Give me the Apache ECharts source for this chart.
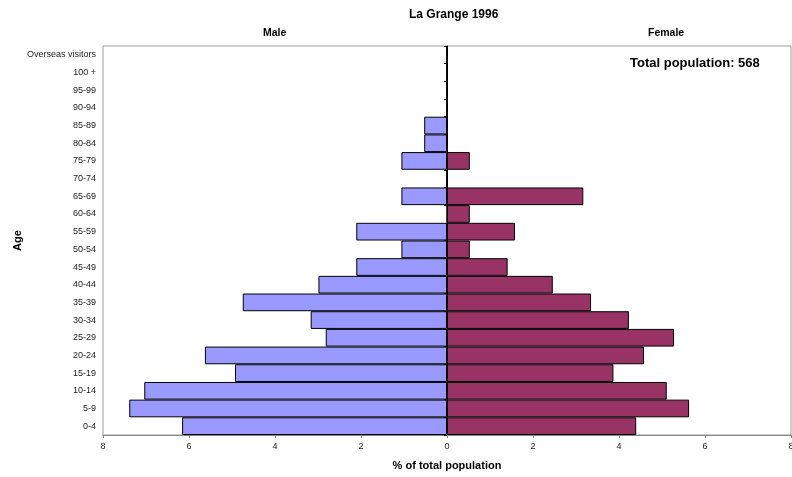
<!DOCTYPE html>
<html>
<head>
<meta charset="utf-8">
<script src="https://cdn.jsdelivr.net/npm/echarts@6/dist/echarts.min.js"></script>
<style>html,body{margin:0;padding:0;background:#fff}#c{width:792px;height:477px}</style>
</head>
<body>
<div id="c"></div>
<script>
const categories = ['0-4','5-9','10-14','15-19','20-24','25-29','30-34','35-39','40-44','45-49','50-54','55-59','60-64','65-69','70-74','75-79','80-84','85-89','90-94','95-99','100 +','Overseas visitors'];
const maleValues = [6.16,7.39,7.04,4.93,5.63,2.82,3.17,4.75,2.99,2.11,1.06,2.11,0,1.06,0,1.06,0.53,0.53,0,0,0,0];
const femaleValues = [4.40,5.63,5.11,3.87,4.58,5.28,4.23,3.35,2.46,1.41,0.53,1.58,0.53,3.17,0,0.53,0,0,0,0,0,0];
const xTicks = [-8,-6,-4,-2,0,2,4,6,8];
const titleText = 'La Grange 1996';
const totalText = 'Total population: 568';

const font = '"Liberation Sans", Arial, sans-serif';
const chart = echarts.init(document.getElementById('c'));
chart.setOption({
  animation: false,
  textStyle: { fontFamily: font },
  grid: { left: 103, right: 1, top: 46, bottom: 42, containLabel: false, outerBoundsMode: 'none',
          show: true, borderColor: '#999', borderWidth: 1, backgroundColor: '#fff' },
  xAxis: {
    type: 'value', min: xTicks[0], max: xTicks[xTicks.length - 1], interval: 2,
    splitLine: { show: false },
    axisLine: { show: true, onZero: false, lineStyle: { color: '#888' } },
    axisTick: { show: true, length: 3, lineStyle: { color: '#888' } },
    axisLabel: { fontSize: 9, color: '#222', margin: 7, formatter: v => String(Math.abs(v)) },
    name: '% of total population', nameLocation: 'middle', nameGap: 25, nameMoveOverlap: false,
    nameTextStyle: { fontSize: 11, fontWeight: 'bold', color: '#000' }
  },
  yAxis: [{
    type: 'category', data: categories, position: 'left',
    axisLine: { show: false, onZero: false },
    axisTick: { show: false },
    axisLabel: { fontSize: 9, color: '#222', margin: 7 },
    name: 'Age', nameLocation: 'middle', nameGap: 80, nameRotate: 90, nameMoveOverlap: false,
    nameTextStyle: { fontSize: 11, fontWeight: 'bold', color: '#000' }
  }, {
    type: 'category', data: categories, position: 'left',
    axisLine: { show: true, onZero: true, lineStyle: { color: '#000', width: 1 } },
    axisTick: { show: true, length: 3, lineStyle: { color: '#000' } },
    axisLabel: { show: false }
  }],
  series: [{
    name: 'Male', type: 'bar', yAxisIndex: 0,
    data: maleValues.map(v => -v),
    barWidth: '100%', barGap: '-100%',
    itemStyle: { color: '#9999FF', borderColor: '#000', borderWidth: 1 }
  }, {
    name: 'Female', type: 'bar', yAxisIndex: 0,
    data: femaleValues,
    barWidth: '100%', barGap: '-100%',
    itemStyle: { color: '#993366', borderColor: '#000', borderWidth: 1 }
  }],
  graphic: [
    { type: 'text', left: 461 - 52, top: 9, style: { text: titleText, font: 'bold 12px ' + font, fill: '#000' } },
    { type: 'text', left: 263, top: 28, style: { text: 'Male', font: 'bold 10.5px ' + font, fill: '#000' } },
    { type: 'text', left: 648, top: 28, style: { text: 'Female', font: 'bold 10.5px ' + font, fill: '#000' } },
    { type: 'text', left: 630, top: 57, style: { text: totalText, font: 'bold 13px ' + font, fill: '#000' } }
  ]
});
</script>
</body>
</html>
